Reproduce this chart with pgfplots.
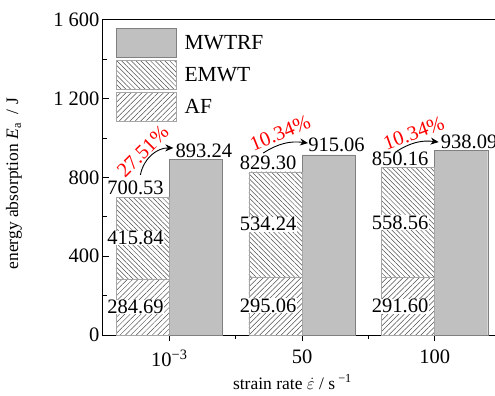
\documentclass[border=0pt]{standalone}
\usepackage{pgfplots}
\pgfplotsset{compat=1.18}
\usetikzlibrary{patterns.meta,arrows.meta}
\usepackage{fontspec}
\setmainfont{Liberation Serif}
\definecolor{barg}{RGB}{192,192,192}
\definecolor{hatch}{RGB}{80,80,80}
\newcommand\fs{\fontsize{20.5}{24}\selectfont}
\newcommand\fg{\fontsize{21.5}{25}\selectfont}
\newcommand\fl{\fontsize{17.5}{21}\selectfont}
\pgfplotsset{mylegend/.style={legend image code/.code={\draw[##1] (0pt,-14.5pt) rectangle (60pt,14.5pt);}}}
\begin{document}
\begin{tikzpicture}
\begin{axis}[
  scale only axis, width=398pt, height=315pt,
  xmin=-0.5, xmax=2.5, ymin=0, ymax=1600,
  clip=false,
  xtick={0,1,2}, xticklabels={10\textsuperscript{−3},50,100},
  minor xtick={0.5,1.5},
  ytick={0,400,800,1200,1600}, yticklabels={0,400,800,1 200,1 600},
  minor ytick={200,600,1000,1400},
  tick pos=left, tick align=inside,
  major tick length=6pt, minor tick length=4pt,
  every major x tick/.append style={yshift=-6pt},
  every minor x tick/.append style={yshift=-4pt},
  tick style={line width=1pt, black},
  axis line style={line width=1pt},
  ticklabel style={font=\fs},
  xticklabel style={yshift=-11pt},
  xlabel={strain rate $\dot{\varepsilon}$ / s\textsuperscript{ −1}},
  ylabel={energy absorption \textit{E}\textsubscript{a}~~/ J},
  label style={font=\fl},
  xlabel style={at={(axis description cs:0.476,-0.149)}, anchor=center},
  ylabel style={at={(axis description cs:-0.2236,0.48)}, anchor=center},
  legend style={draw=none, fill=none, at={(axis description cs:0,1)}, anchor=north west,
    xshift=10pt, yshift=-6pt, font=\fg, row sep=2.5pt, legend cell align=left,
    /tikz/every odd column/.append style={column sep=6pt}},
]
\coordinate (bl) at (rel axis cs:0,0);
\addplot[ybar, bar width=0.4, bar shift=0.2, draw=gray, fill=barg, mylegend]
  coordinates {(0,893.24) (1,915.06) (2,938.09)};
\addlegendentry{MWTRF}
\addplot[ybar, bar width=0.4, bar shift=-0.2, draw=gray!70, fill=white,
  postaction={pattern color=hatch, pattern={Lines[angle=-45,distance=3.4pt,line width=0.5pt]}}, mylegend]
  coordinates {(0,700.53) (1,829.30) (2,850.16)};
\addlegendentry{EMWT}
\addplot[ybar, bar width=0.4, bar shift=-0.2, draw=gray!70, fill=white,
  postaction={pattern color=hatch, pattern={Lines[angle=45,distance=3.8pt,line width=0.5pt]}}, mylegend]
  coordinates {(0,284.69) (1,295.06) (2,291.60)};
\addlegendentry{AF}
% segment labels
\tikzset{lab/.style={fill=white, inner sep=0.5pt, font=\fs}}
\node[lab] at (axis cs:-0.255,142.35) {284.69};
\node[lab] at (axis cs:0.745,147.53) {295.06};
\node[lab] at (axis cs:1.74,145.80) {291.60};
\node[lab] at (axis cs:-0.255,492.61) {415.84};
\node[lab] at (axis cs:0.745,562.18) {534.24};
\node[lab] at (axis cs:1.74,570.88) {558.56};
\node[lab, anchor=south, yshift=2pt] at (axis cs:-0.255,700.53) {700.53};
\node[lab, anchor=south, yshift=1pt] at (axis cs:0.745,829.30) {829.30};
\node[lab, anchor=south, yshift=1pt] at (axis cs:1.74,850.16) {850.16};
\node[font=\fs, anchor=south, inner sep=1pt] at (axis cs:0.26,893.24) {893.24};
\node[font=\fs, anchor=south, inner sep=1pt, yshift=2pt] at (axis cs:1.26,915.06) {915.06};
\node[font=\fs, anchor=south, inner sep=1pt] at (axis cs:2.26,938.09) {938.09};
% percentages
\node[red, font=\fs, rotate=45] at (axis cs:-0.2,932) {27.51\%};
\node[red, font=\fs, rotate=22] at (axis cs:0.835,1026) {10.34\%};
\node[red, font=\fs, rotate=20] at (axis cs:1.842,1026) {10.34\%};
\draw[-{Stealth[length=8pt,width=7pt]}, line width=0.9pt] (axis cs:-0.218,813) to[bend left=40] (axis cs:0.03,950);
\draw[-{Stealth[length=8pt,width=7pt]}, line width=0.9pt] (axis cs:0.707,924) to[bend left=20] (axis cs:1.045,975);
\draw[-{Stealth[length=8pt,width=7pt]}, line width=0.9pt] (axis cs:1.707,930) to[bend left=20] (axis cs:2.03,980);
\end{axis}
\pgfresetboundingbox
\useasboundingbox (bl) ++(-103pt,-61pt) rectangle ++(495pt,396pt);
\end{tikzpicture}
\end{document}
